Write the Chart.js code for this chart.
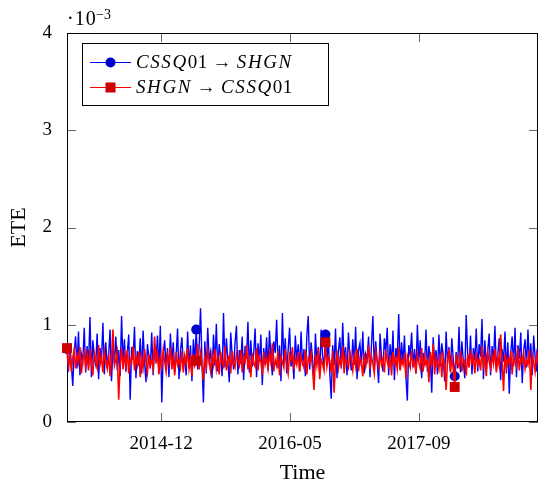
<!DOCTYPE html>
<html lang="en">
<head>
  <meta charset="UTF-8">
  <title>ETE</title>
  <script src="https://cdn.jsdelivr.net/npm/chart.js"></script>
  <style>body{margin:0;background:#fff}</style>
</head>
<body>
<canvas id="myChart" width="538" height="481"></canvas>
<script>
  // ETE values in units of 1e-3 (the axis shows the ·10^-3 factor)
  const cssqToShgn = [
    0.75,0.52,0.81,0.60,0.37,0.72,0.88,0.55,0.93,0.48,0.70,0.62,0.97,0.51,0.78,0.58,1.08,0.46,0.84,0.66,
    0.59,0.91,0.44,0.76,0.63,1.02,0.49,0.82,0.57,0.69,0.95,0.42,0.79,0.61,0.88,0.53,0.74,0.47,1.09,0.60,
    0.85,0.52,0.71,0.90,0.23,0.77,0.64,0.98,0.45,0.73,0.58,0.86,0.50,0.94,0.62,0.41,0.80,0.67,0.55,0.92,
    0.48,0.75,0.63,0.89,0.53,0.99,0.20,0.70,0.84,0.57,0.76,0.46,0.91,0.60,0.82,0.51,0.68,0.96,0.44,0.73,
    0.87,0.59,0.66,0.48,0.93,0.55,0.79,0.42,0.85,0.62,0.95,0.54,0.77,1.17,0.61,0.20,0.83,0.50,0.97,0.64,
    0.72,0.45,0.90,0.58,1.01,0.52,0.80,0.67,0.47,1.12,0.56,0.86,0.63,0.41,0.92,0.69,0.54,0.81,0.99,0.49,
    0.74,0.60,0.88,0.43,0.78,0.65,1.03,0.51,0.84,0.57,0.70,0.96,0.46,0.81,0.62,0.90,0.38,0.76,0.59,0.87,
    0.53,0.94,0.66,0.48,0.83,0.71,1.05,0.55,0.79,0.42,1.12,0.61,0.86,0.50,0.74,0.97,0.57,0.68,0.44,0.89,
    0.63,0.80,0.52,0.93,0.58,0.75,0.47,0.88,1.09,0.54,0.82,0.65,0.39,0.91,0.60,0.77,0.49,0.95,0.68,0.56,
    0.90,0.63,0.84,0.51,0.24,0.79,0.58,0.96,0.45,0.73,0.87,0.55,1.02,0.61,0.77,0.48,0.92,0.66,0.53,0.85,
    0.59,0.98,0.44,0.74,0.81,0.57,0.93,0.50,0.70,0.64,0.88,0.46,0.78,1.09,0.56,0.83,0.62,0.40,0.91,0.67,
    0.52,0.86,0.72,0.97,0.48,0.80,0.59,0.94,0.43,0.76,0.65,1.11,0.54,0.82,0.60,0.89,0.47,0.22,0.79,0.69,
    0.92,0.56,0.75,0.50,1.00,0.63,0.84,0.45,0.71,0.58,0.95,0.52,0.78,0.66,0.30,0.87,0.61,0.74,0.49,0.90,
    0.57,0.81,0.68,0.42,0.93,0.60,0.77,0.53,0.86,0.64,0.47,0.72,0.55,0.98,0.51,0.83,0.62,0.45,1.10,0.70,
    0.58,0.89,0.49,0.76,0.63,0.96,0.52,0.80,0.67,1.06,0.44,0.84,0.59,0.73,0.91,0.48,0.78,0.61,0.99,0.54,
    0.69,0.86,0.43,0.75,0.62,0.93,0.50,0.82,0.29,0.71,0.88,0.57,0.97,0.46,0.79,0.65,0.92,0.40,0.74,0.85,
    0.56,0.95,0.60,0.81,0.48,0.89,0.66,0.52,0.77
  ];
  const shgnToCssq = [
    0.76,0.58,0.70,0.52,0.66,0.74,0.55,0.68,0.61,0.77,0.50,0.64,0.72,0.57,0.69,0.53,0.75,0.60,0.48,0.71,
    0.63,0.56,0.79,0.59,0.67,0.51,0.73,0.62,0.55,0.70,0.47,0.66,0.95,0.58,0.64,0.72,0.23,0.60,0.76,0.54,
    0.69,0.57,0.74,0.50,0.65,0.61,0.78,0.53,0.68,0.59,0.72,0.46,0.66,0.56,0.75,0.62,0.51,0.70,0.58,0.64,
    0.55,0.88,0.60,0.71,0.49,0.67,0.57,0.74,0.63,0.52,0.69,0.61,0.77,0.54,0.66,0.48,0.72,0.59,0.64,0.56,
    0.73,0.51,0.68,0.60,0.76,0.55,0.65,0.47,0.70,0.58,0.63,0.80,0.54,0.71,0.60,0.43,0.67,0.57,0.74,0.62,
    0.52,0.69,0.59,0.75,0.55,0.66,0.49,0.72,0.61,0.57,0.78,0.53,0.64,0.68,0.50,0.73,0.60,0.56,0.70,0.63,
    0.58,0.74,0.51,0.67,0.62,0.79,0.54,0.65,0.46,0.71,0.60,0.57,0.76,0.53,0.68,0.63,0.49,0.72,0.59,0.66,
    0.55,0.70,0.61,0.81,0.52,0.64,0.58,0.73,0.48,0.67,0.62,0.56,0.75,0.60,0.50,0.69,0.63,0.77,0.54,0.65,
    0.59,0.72,0.52,0.68,0.61,0.56,0.74,0.49,0.66,0.62,0.71,0.55,0.33,0.69,0.58,0.76,0.44,0.64,0.60,0.53,
    0.82,0.57,0.67,0.63,0.51,0.73,0.30,0.62,0.70,0.55,0.65,0.59,0.78,0.50,0.68,0.61,0.56,0.72,0.64,0.53,
    0.69,0.58,0.75,0.52,0.66,0.61,0.47,0.71,0.57,0.64,0.79,0.54,0.68,0.60,0.50,0.73,0.63,0.56,0.70,0.59,
    0.65,0.51,0.74,0.62,0.57,0.69,0.48,0.72,0.60,0.66,0.55,0.77,0.53,0.64,0.59,0.71,0.45,0.68,0.62,0.56,
    0.73,0.58,0.63,0.50,0.70,0.61,0.55,0.76,0.52,0.67,0.59,0.64,0.41,0.72,0.57,0.80,0.49,0.66,0.60,0.54,
    0.71,0.46,0.68,0.58,0.33,0.63,0.75,0.51,0.66,0.55,0.36,0.70,0.60,0.57,0.73,0.52,0.65,0.62,0.48,0.69,
    0.56,0.74,0.61,0.67,0.50,0.71,0.59,0.64,0.53,0.78,0.58,0.66,0.47,0.72,0.62,0.55,0.69,0.60,0.75,0.51,
    0.67,0.58,0.90,0.63,0.32,0.70,0.56,0.65,0.60,0.73,0.49,0.68,0.62,0.57,0.76,0.53,0.66,0.61,0.71,0.55,
    0.64,0.59,0.74,0.33,0.68,0.62,0.52,0.70,0.60
  ];
  const seriesNames = ['CSSQ01 → SHGN', 'SHGN → CSSQ01'];
  const xTickPos = [65.5, 155.3, 245.1];        // sample index of each date tick
  const xTickLabels = ['2014-12', '2016-05', '2017-09'];
  const markEvery = 90;                          // a mark every 90 samples

  const serif = '"Liberation Serif", "DejaVu Serif", serif';
  const toXY = arr => arr.map((v, i) => ({x: i, y: v}));
  const markRadius = r => ctx => (ctx.dataIndex % markEvery === 0 ? r : 0);

  // letters italic, digits and the arrow upright (like TeX math)
  function mathText(ctx, text, x, y, size) {
    const parts = text.split(/([A-Z]+|→)/).map(s => s.trim()).filter(s => s.length);
    parts.forEach(p => {
      const italic = /^[A-Z]+$/.test(p);
      const arrow = p === '→';
      ctx.font = (italic ? 'italic ' : '') + size + 'px ' + serif;
      ctx.letterSpacing = italic ? '1.6px' : '0.5px';
      if (arrow) x += size * 0.25;
      ctx.fillText(p, x, y);
      x += ctx.measureText(p).width + (arrow ? size * 0.25 : 0);
    });
    ctx.letterSpacing = '0px';
  }

  const decor = {
    id: 'decor',
    beforeDatasetsDraw(chart) {
      const {ctx, chartArea: a, scales: {x, y}} = chart;
      ctx.save();
      ctx.strokeStyle = '#666';
      ctx.lineWidth = 1;
      ctx.beginPath();
      x.ticks.forEach(t => {
        const px = Math.round(x.getPixelForValue(t.value)) + 0.5;
        ctx.moveTo(px, a.bottom); ctx.lineTo(px, a.bottom - 9);
        ctx.moveTo(px, a.top); ctx.lineTo(px, a.top + 9);
      });
      y.ticks.forEach(t => {
        const py = Math.round(y.getPixelForValue(t.value)) + 0.5;
        ctx.moveTo(a.left, py); ctx.lineTo(a.left + 9, py);
        ctx.moveTo(a.right, py); ctx.lineTo(a.right - 9, py);
      });
      ctx.stroke();
      ctx.strokeStyle = '#000';
      ctx.strokeRect(a.left + 0.5, a.top + 0.5, a.right - a.left - 1, a.bottom - a.top - 1);
      ctx.restore();
    },
    afterDraw(chart) {
      const {ctx} = chart;
      ctx.save();
      ctx.fillStyle = '#000';
      ctx.textBaseline = 'alphabetic';
      // scale factor label
      ctx.font = '20px ' + serif;
      ctx.letterSpacing = '1px';
      ctx.fillText('·10', 67, 25);
      ctx.letterSpacing = '0px';
      ctx.font = '14px ' + serif;
      ctx.fillText('−3', 96, 19);

      // legend box
      ctx.fillStyle = '#fff';
      ctx.fillRect(83, 44, 245, 61);
      ctx.strokeStyle = '#000';
      ctx.lineWidth = 1;
      ctx.strokeRect(82.5, 43.5, 246, 62);
      chart.data.datasets.forEach((ds, i) => {
        const cy = 62 + i * 25;
        ctx.strokeStyle = ds.borderColor;
        ctx.lineWidth = 1;
        ctx.beginPath();
        ctx.moveTo(90, cy + 0.5); ctx.lineTo(131, cy + 0.5);
        ctx.stroke();
        ctx.fillStyle = ds.pointBackgroundColor;
        if (ds.pointStyle === 'rect') {
          ctx.fillRect(105.5, cy - 4.5, 10, 10);
        } else {
          ctx.beginPath();
          ctx.arc(110.5, cy + 0.5, 5, 0, Math.PI * 2);
          ctx.fill();
        }
        ctx.fillStyle = '#000';
        ctx.textBaseline = 'middle';
        mathText(ctx, seriesNames[i], 136, cy + 1, 19);
      });
      ctx.restore();
    }
  };

  const ctx = document.getElementById('myChart').getContext('2d');
  new Chart(ctx, {
    type: 'line',
    data: {
      datasets: [{
        label: seriesNames[0],
        data: toXY(cssqToShgn),
        borderColor: '#0000ff',
        borderWidth: 1.4,
        pointStyle: 'circle',
        pointBackgroundColor: '#0000cc',
        pointBorderColor: '#0000cc',
        pointBorderWidth: 0,
        pointRadius: markRadius(5),
        order: 2,
        clip: false
      }, {
        label: seriesNames[1],
        data: toXY(shgnToCssq),
        borderColor: '#ff0000',
        borderWidth: 1.6,
        pointStyle: 'rect',
        pointBackgroundColor: '#cc0000',
        pointBorderColor: '#cc0000',
        pointBorderWidth: 0,
        pointRadius: markRadius(7),
        order: 1,
        clip: false
      }]
    },
    options: {
      responsive: false,
      animation: false,
      events: [],
      layout: {autoPadding: false, padding: {top: 33, right: 0, left: 0, bottom: 0}},
      plugins: {legend: {display: false}, tooltip: {enabled: false}},
      scales: {
        x: {
          type: 'linear',
          min: 0,
          max: cssqToShgn.length - 1,
          grid: {display: false},
          border: {display: false},
          afterBuildTicks: s => { s.ticks = xTickPos.map(v => ({value: v})); },
          afterFit: s => { s.height = 59; s.paddingLeft = 0; s.paddingRight = 0; },
          ticks: {
            autoSkip: false,
            maxRotation: 0,
            padding: 3,
            color: '#000',
            font: {family: serif, size: 19},
            callback: v => xTickLabels[xTickPos.indexOf(v)]
          },
          title: {
            display: true,
            text: 'Time',
            color: '#000',
            font: {family: serif, size: 22, lineHeight: 1},
            padding: {top: 0, bottom: -3}
          }
        },
        y: {
          min: 0,
          max: 4,
          grid: {display: false},
          border: {display: false},
          afterFit: s => { s.width = 67; },
          ticks: {
            stepSize: 1,
            padding: 7,
            color: '#000',
            font: {family: serif, size: 19},
            callback: v => String(v)
          },
          title: {
            display: true,
            text: 'ETE',
            color: '#000',
            font: {family: serif, size: 22, lineHeight: 1},
            padding: {top: 8.5, bottom: 0}
          }
        }
      }
    },
    plugins: [decor]
  });
</script>
</body>
</html>
